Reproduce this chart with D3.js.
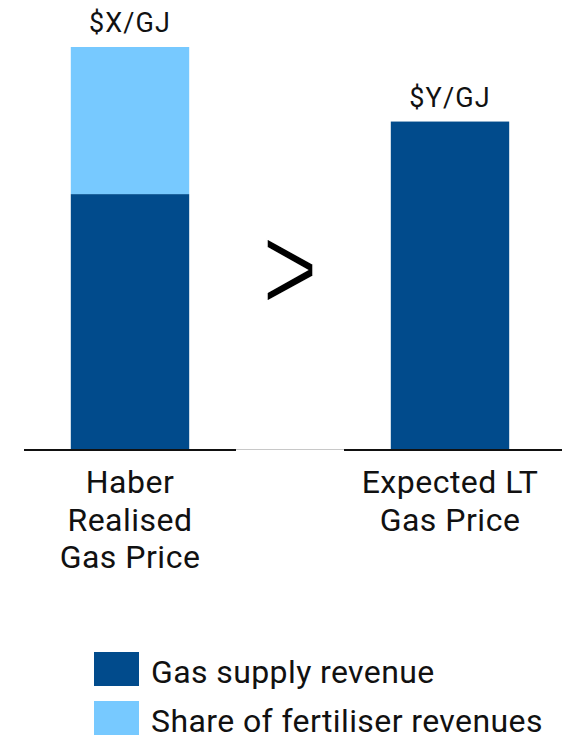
<!DOCTYPE html>
<html>
<head>
<meta charset="utf-8">
<script src="https://cdn.jsdelivr.net/npm/d3@7"></script>
<style>
  html, body { margin: 0; padding: 0; background: #fff; }
  svg { display: block; font-family: Roboto, "Liberation Sans", sans-serif; }
</style>
</head>
<body>
<svg id="chart" width="562" height="735"></svg>
<script>
// data (relative units, left bar total = 100)
var categories = ["Haber Realised Gas Price", "Expected LT Gas Price"];
var categoryLines = [["Haber", "Realised", "Gas Price"], ["Expected LT", "Gas Price"]];
var gasSupply = [63.5, 81.5];
var fertiliserShare = [36.5, 0];
var valueLabels = ["$X/GJ", "$Y/GJ"];
var seriesNames = ["Gas supply revenue", "Share of fertiliser revenues"];
var colors = ["#014b8c", "#77c9ff"];

var svg = d3.select("#chart");

var x = d3.scaleBand()
  .domain(categories)
  .range([-30, 610])
  .paddingInner(0.63)
  .paddingOuter(0.315);

var y = d3.scaleLinear()
  .domain([0, 100])
  .range([450, 47]);

var rows = categories.map(function(c, i) {
  return { cat: c, gas: gasSupply[i], fert: fertiliserShare[i] };
});
var stack = d3.stack().keys(["gas", "fert"])(rows);

svg.append("g").selectAll("g")
  .data(stack)
  .join("g")
    .attr("fill", function(d, i) { return colors[i]; })
  .selectAll("rect")
  .data(function(d) { return d; })
  .join("rect")
    .attr("x", function(d) { return x(d.data.cat); })
    .attr("y", function(d) { return y(d[1]); })
    .attr("width", x.bandwidth())
    .attr("height", function(d) { return y(d[0]) - y(d[1]); });

// baseline
var base = y(0);
svg.append("line").attr("x1", 24).attr("x2", 236).attr("y1", base).attr("y2", base)
  .attr("stroke", "#111").attr("stroke-width", 2);
svg.append("line").attr("x1", 236).attr("x2", 344).attr("y1", base - 0.5).attr("y2", base - 0.5)
  .attr("stroke", "#c8c8c8").attr("stroke-width", 1);
svg.append("line").attr("x1", 344).attr("x2", 562).attr("y1", base).attr("y2", base)
  .attr("stroke", "#111").attr("stroke-width", 2);

// value labels above bars
svg.append("g").selectAll("text")
  .data(rows)
  .join("text")
    .attr("x", function(d) { return x(d.cat) + x.bandwidth() / 2; })
    .attr("y", function(d) { return y(d.gas + d.fert) - 15; })
    .attr("text-anchor", "middle")
    .attr("font-size", 27)
    .attr("letter-spacing", 1.1)
    .attr("fill", "#111")
    .text(function(d, i) { return valueLabels[i]; });

// category labels
svg.append("g").selectAll("text")
  .data(categories)
  .join("text")
    .attr("x", function(d) { return x(d) + x.bandwidth() / 2; })
    .attr("y", 493.3)
    .attr("text-anchor", "middle")
    .attr("font-size", 32)
    .attr("letter-spacing", 0.5)
    .attr("fill", "#111")
  .selectAll("tspan")
  .data(function(d, i) { return categoryLines[i]; })
  .join("tspan")
    .attr("x", function() { var p = this.parentNode.__data__; return x(p) + x.bandwidth() / 2; })
    .attr("dy", function(d, i) { return i ? 37.5 : 0; })
    .text(function(d) { return d; });

// comparison sign between the bars
var midX = (x(categories[0]) + x.bandwidth() + x(categories[1])) / 2;
svg.append("text")
  .attr("transform", "translate(" + midX + ",267) scale(1,1.3)")
  .attr("dy", "0.36em")
  .attr("text-anchor", "middle")
  .attr("font-family", "'Liberation Sans', Arial, sans-serif")
  .attr("font-size", 95)
  .attr("fill", "#000")
  .attr("stroke", "#fff")
  .attr("stroke-width", 1.5)
  .text(">");

// legend
var legend = svg.append("g").selectAll("g")
  .data(seriesNames)
  .join("g")
    .attr("transform", function(d, i) { return "translate(94," + (652 + i * 49) + ")"; });
legend.append("rect")
  .attr("width", 45).attr("height", 34)
  .attr("fill", function(d, i) { return colors[i]; });
legend.append("text")
  .attr("x", 57).attr("y", 30.7)
  .attr("font-size", 32)
  .attr("letter-spacing", 0.4)
  .attr("fill", "#111")
  .text(function(d) { return d; });
</script>
</body>
</html>
